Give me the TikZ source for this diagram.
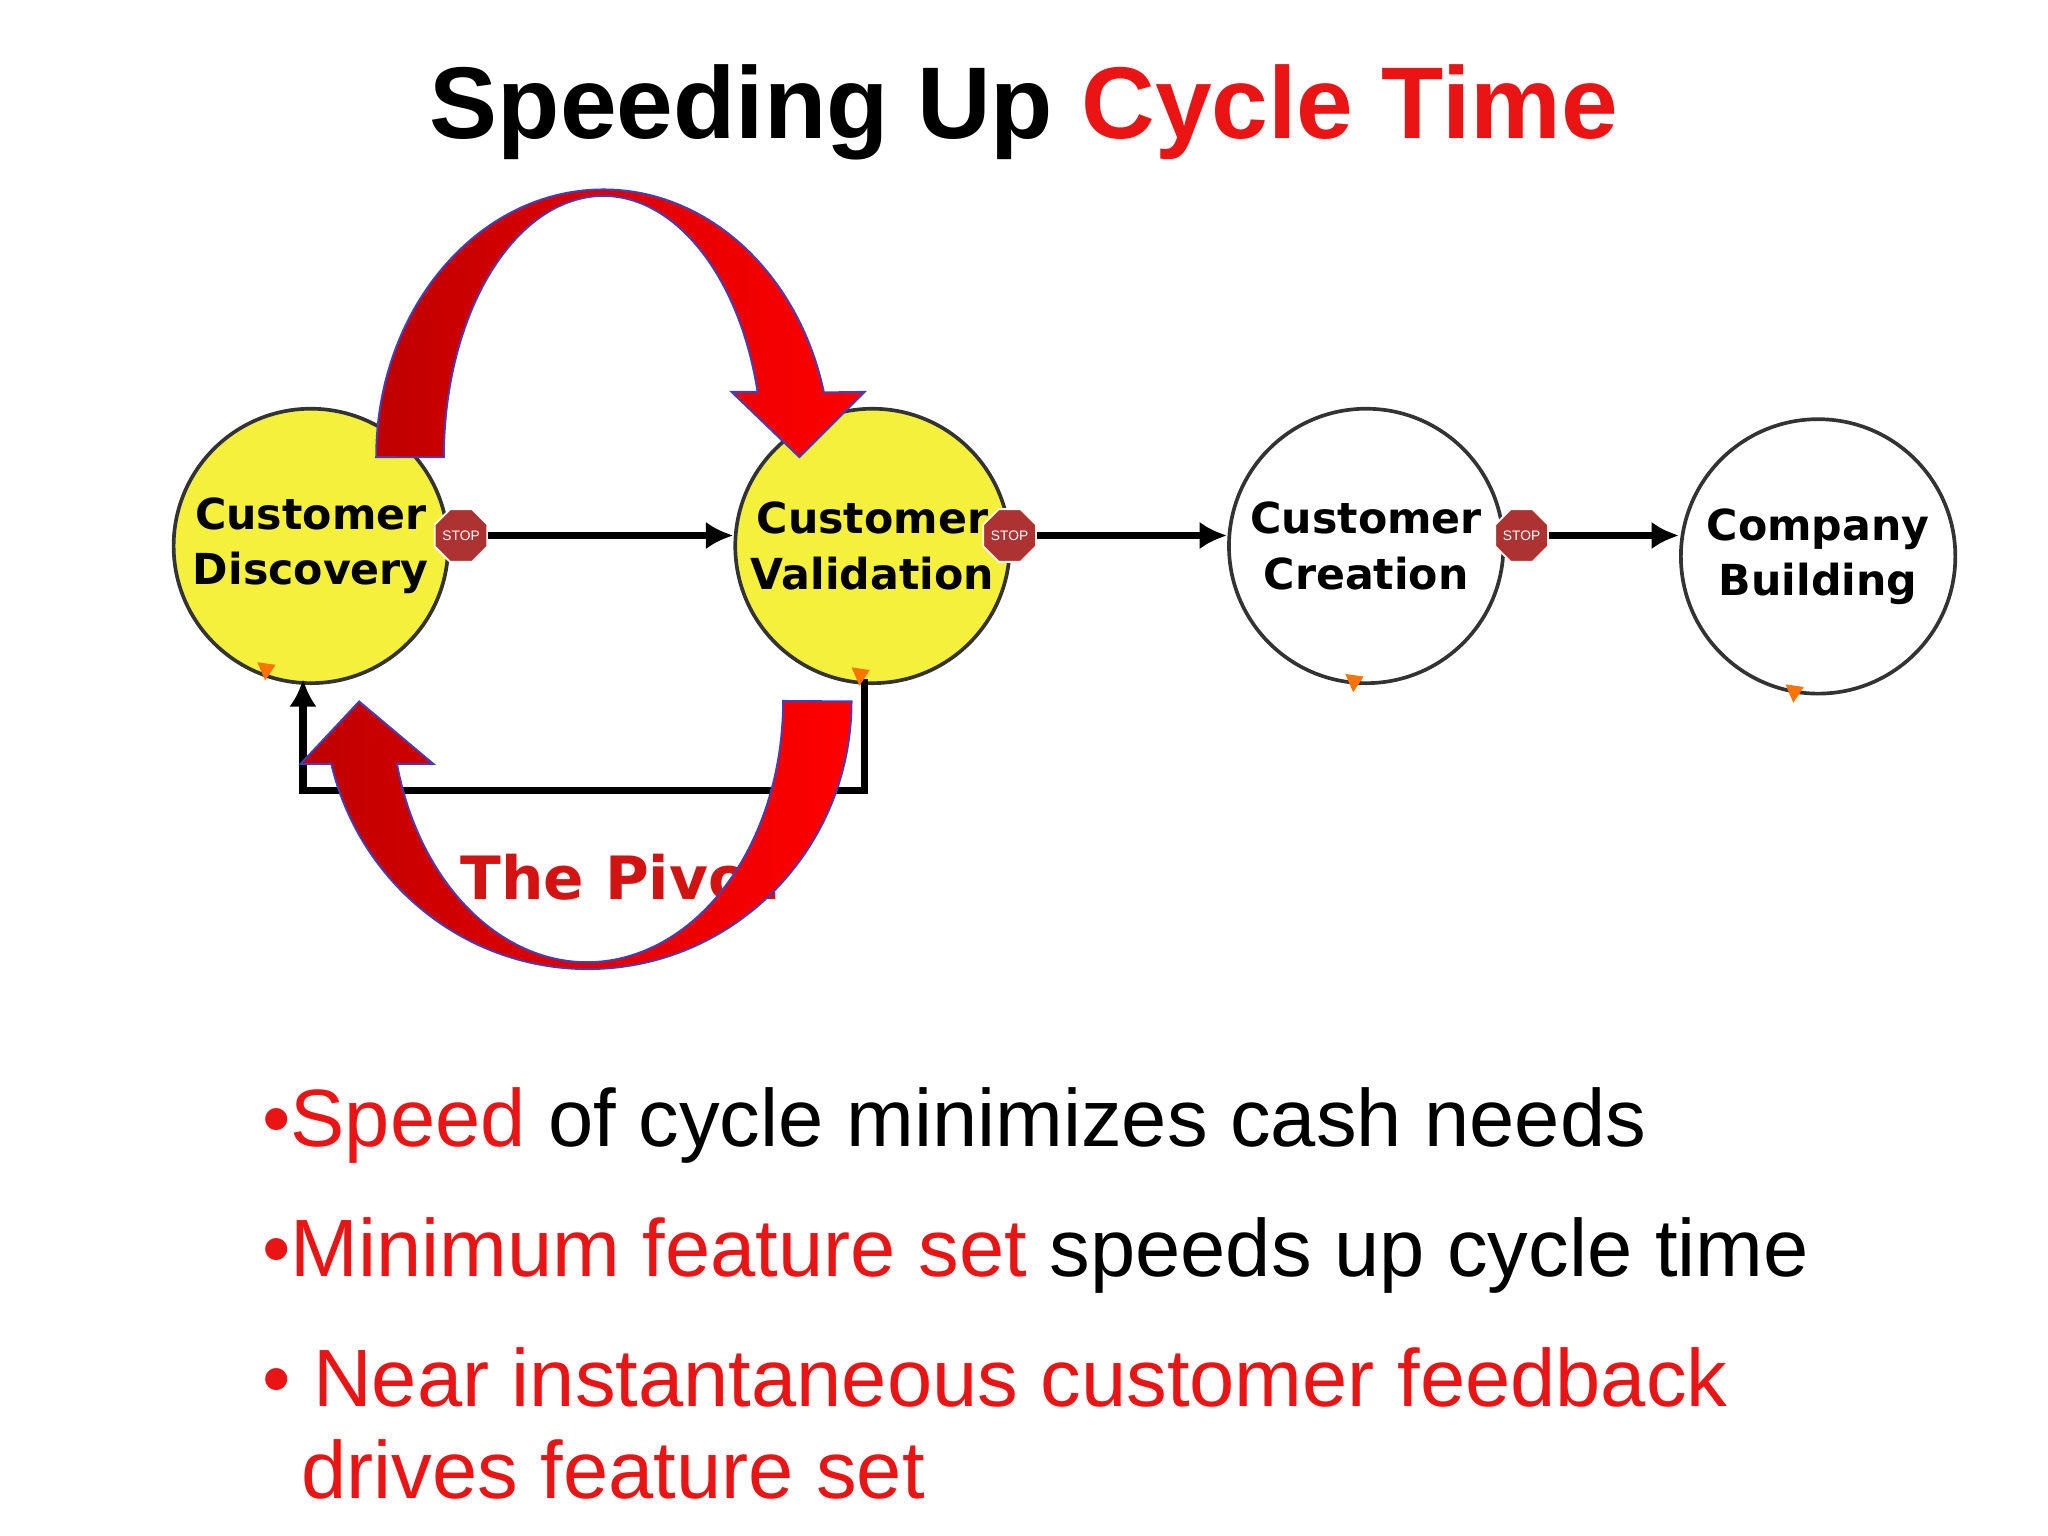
\documentclass[tikz,border=0pt]{standalone}
\usepackage{fontspec}
\setmainfont{Liberation Sans}
\newfontfamily\verd{DejaVu Sans}
\usetikzlibrary{arrows.meta,shapes.geometric}
\definecolor{myred}{RGB}{235,20,20}
\definecolor{yel}{RGB}{245,240,60}
\tikzset{
 stage/.style={circle,draw=black!80,line width=0.8pt,minimum size=2.1cm,inner sep=0pt,align=center,font=\verd\bfseries\fontsize{9.3}{12}\selectfont},
 stopsign/.style={regular polygon,regular polygon sides=8,fill=red!60!black!80,draw=white,minimum size=0.36cm,inner sep=0pt,font=\fontsize{3}{3}\selectfont,text=white},
 flow/.style={line width=1.6pt,-{Latex[length=6pt,width=6pt]}},
 bigarrow/.style={left color=red!75!black,right color=red,draw=blue!50!gray,line width=0.4pt},
 tri/.style={fill=orange!90!red}
}
\begin{document}
\begin{tikzpicture}[x=0.01cm,y=-0.01cm]
\useasboundingbox (0,0) rectangle (1568,1176);
\node[anchor=center] (title) at (784,86) {\fontsize{22.2}{26}\selectfont\bfseries Speeding Up \textcolor{myred}{Cycle Time}};
% pivot text
\node[anchor=west,inner sep=0pt,text=myred!90!black] (pivot) at (352,672) {\fontsize{13}{16}\selectfont\verd\bfseries The Pivot};
% stages
\node[stage,fill=yel] (cd) at (238,418) {Customer\\Discovery};
\node[stage,fill=yel] (cv) at (668,418) {Customer\\Validation};
\node[stage,fill=white] (cc) at (1046,418) {Customer\\Creation};
\node[stage,fill=white] (cb) at (1392,426) {Company\\Building};
% stop signs
\node[stopsign] (s1) at (353,410) {STOP};
\node[stopsign] (s2) at (773,410) {STOP};
\node[stopsign] (s3) at (1165,410) {STOP};
\draw[flow] (s1.east) -- (s1.east -| cv.west);
\draw[flow] (s2.east) -- (s2.east -| cc.west);
\draw[flow] (s3.east) -- (s3.east -| cb.west);
% feedback
\coordinate (fb1) at (662,520);
\coordinate (fb2) at (232,520);
\draw[line width=1.6pt,-{Latex[length=6pt,width=6pt]}] (fb1) -- (662,605) -- (232,605) -- (fb2);
% small triangles
\foreach \x/\y in {205/513,660/517,1038/522,1375/530}
  \fill[tri] (\x-8,\y-6) -- (\x+6,\y-4) -- (\x-2,\y+8) -- cycle;
% top red arrow
\path[bigarrow] (288,350) arc[start angle=180,end angle=346,x radius=174,y radius=205]
  -- (662,300) -- (612,350) -- (560,300) -- (580,300)
  arc[start angle=345.5,end angle=180,x radius=122,y radius=200] -- cycle;
% bottom red arrow
\path[bigarrow] (652,537) arc[start angle=0,end angle=166.5,x radius=202,y radius=205]
  -- (230,585) -- (275,537) -- (332,585) -- (304,585)
  arc[start angle=166,end angle=0,x radius=150,y radius=200] -- cycle;
% bullets
\begin{scope}[every node/.style={anchor=base west,inner sep=0pt,font=\fontsize{17.7}{22}\selectfont}]
\node (b1) at (200,878) {\textcolor{myred}{•Speed} of cycle minimizes cash needs};
\node (b2) at (200,977) {\textcolor{myred}{•Minimum feature set} speeds up cycle time};
\node (b3) at (200,1077) {\textcolor{myred}{• Near instantaneous customer feedback}};
\node (b4) at (230,1147) {\textcolor{myred}{drives feature set}};
\end{scope}
\end{tikzpicture}
\end{document}
